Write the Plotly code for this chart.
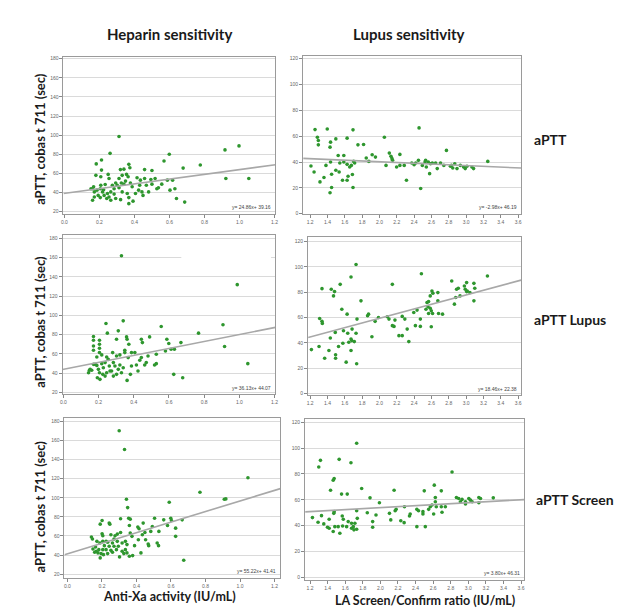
import plotly.graph_objects as go

W, H = 625, 610

# ---------------- data ----------------
hep_aptt_x = [0.312,0.261,0.212,0.182,0.212,0.18,0.208,0.25,0.255,0.32,0.34,0.368,0.374,0.355,0.364,0.415,0.458,0.5,0.458,0.494,0.518,0.569,0.599,0.678,0.588,0.618,0.776,0.917,0.997,0.922,1.053,0.167,0.161,0.171,0.186,0.205,0.218,0.224,0.193,0.205,0.161,0.227,0.242,0.255,0.265,0.274,0.284,0.293,0.302,0.312,0.325,0.33,0.34,0.349,0.359,0.368,0.377,0.387,0.368,0.392,0.43,0.424,0.443,0.449,0.481,0.528,0.537,0.556,0.603,0.631,0.64,0.687,0.321,0.293,0.265,0.246,0.284,0.406,0.468,0.208,0.233,0.434,0.5,0.33,0.312,0.152,0.171]
hep_aptt_y = [98.6,81,74,70,63.5,58,56.5,59,54.7,64,64.5,69.5,66,59,56.5,55.5,64,63,54.7,53.7,54.7,73,80,65.6,53,53,68.8,84.6,88.8,54.7,54.7,46,44,40.7,42.5,44,40.7,43,37,34.7,32,37,33.7,35.4,40.7,47.7,44,50,47.7,45,50,40.7,48.8,52,39,34.7,50,46,28.4,31,47.7,42.5,40.7,37,40.7,44,45,48.8,42.5,44,33.7,30,32.6,33.7,32,39,38.4,39,47.7,47.7,48.4,53,48.8,58,54.7,44,35.4]

lup_aptt_x = [1.21,1.257,1.398,1.695,1.284,1.295,1.295,1.436,1.43,1.497,1.627,1.752,1.817,2.057,2.457,2.773,3.25,1.246,1.314,1.36,1.383,1.436,1.448,1.448,1.43,1.497,1.524,1.535,1.543,1.574,1.589,1.589,1.627,1.638,1.627,1.657,1.676,1.688,1.703,1.695,1.714,1.848,1.878,1.916,1.954,2.076,2.114,2.133,2.145,2.152,2.198,2.236,2.236,2.286,2.312,2.373,2.4,2.419,2.45,2.476,2.495,2.526,2.541,2.564,2.579,2.59,2.61,2.648,2.667,2.705,2.743,2.819,2.846,2.869,2.895,2.933,2.971,2.99,3.01,3.067,3.086,2.83,2.533]
lup_aptt_y = [36.9,65.1,65.6,64.9,59.2,56.7,53.3,55.4,51.5,57.9,58.5,53.3,53.6,59.2,66.4,49,40.5,32.3,24.6,28,37.4,40,30.5,20.3,16.2,33.6,45.1,32.3,39.2,25.9,45.1,40,38.2,29,25.9,36.2,37.4,30.3,40.5,20.3,39.2,43.1,40.5,45.6,43.8,37.4,46.9,44.4,42.6,41.3,36.2,37.4,45.9,37.4,25.9,39.2,37.9,39.2,41.3,19.5,37.4,40,36.2,40,31,38.7,39.2,39.2,34.9,39.2,37.4,36.7,35.4,38.7,34.9,37.4,36.2,34.9,36.7,36.2,34.9,37.4,41.3]

hep_lupus_x = [0.33,0.988,0.242,0.34,0.25,0.312,0.556,0.768,0.907,0.916,1.048,0.171,0.171,0.171,0.171,0.205,0.205,0.205,0.205,0.302,0.359,0.362,0.372,0.443,0.449,0.49,0.588,0.599,0.668,0.612,0.631,0.58,0.528,0.481,0.443,0.434,0.415,0.387,0.406,0.349,0.349,0.368,0.321,0.302,0.28,0.246,0.218,0.19,0.18,0.152,0.143,0.161,0.19,0.199,0.205,0.218,0.227,0.224,0.193,0.208,0.237,0.246,0.261,0.274,0.284,0.293,0.302,0.321,0.33,0.34,0.362,0.381,0.424,0.462,0.471,0.518,0.528,0.627,0.678,0.255,0.237,0.265,0.284,0.312,0.148,0.171,0.387]
hep_lupus_y = [162,132,91.7,94.4,81.6,84,88.5,81.6,90.3,67.7,49.9,78.1,74.3,68.3,63.8,74.3,70.1,65.9,61.4,75.3,77.7,75.3,70.1,75.3,71.8,77.7,75.3,70.8,71.8,64.9,64.9,63.1,59.7,57.9,56.2,53.4,48.5,61.4,61.4,63.8,61.4,56.2,59,57.9,61.4,56.9,59,56.9,49.2,44,40.5,43,48.1,44,40.5,49.9,45.7,38.8,35.3,33.6,37,40.5,47.5,42.3,51,47.5,38.8,48.5,40.5,45.7,32.5,38.8,42.3,48.5,51,48.5,49.9,38.8,35.3,54.4,51,42.3,37,44,43,49.2,47.5]

lup_lupus_x = [1.73,1.672,1.547,1.337,1.444,1.482,1.47,1.566,1.787,1.627,1.874,1.863,1.989,1.95,1.741,1.31,1.337,1.341,2.149,2.484,2.091,2.11,2.149,2.168,2.179,2.263,2.396,2.434,2.472,2.415,2.472,2.598,2.537,2.549,2.567,2.586,2.606,2.617,2.56,2.586,2.598,2.613,2.567,2.674,2.674,2.682,2.728,2.225,2.263,2.32,2.339,1.913,1.215,1.303,1.368,1.417,1.433,1.49,1.494,1.494,1.528,1.578,1.585,1.616,1.634,1.646,1.672,1.68,1.684,1.71,1.73,1.737,1.672,2.834,2.865,2.88,2.89,2.91,2.93,2.98,3.006,3.013,3.044,3.09,3.1,3.09,3.006,3.246,2.99,2.293]
lup_lupus_y = [101.8,91.9,86.1,82.7,82.2,80.4,77,66.5,73.1,62.6,62.6,61.3,60,56.9,58.7,59.2,56.9,55.3,86.1,94.5,60.5,58.7,53.5,52.9,57.9,60.8,63.9,65.8,58.7,53.5,52.9,52.7,66.5,71.8,72.5,77,80.9,79.1,68.4,67.3,65.2,63.1,63.1,79.6,73.1,63.1,62.6,45.6,45.6,50.8,40.9,44.8,34.6,37,27.8,33.9,43.8,48.2,30.5,27.8,37,39.6,49.5,24.7,47.5,40.4,33.9,41.7,50.8,40.9,47.5,23.4,43,88.8,70.5,75.7,82.2,83,77,84.8,87.5,80.9,79.6,86.9,83,73.1,80.4,92.7,82.2,58.7]

hep_screen_x = [0.30,0.331,1.046,0.768,0.909,0.918,0.342,0.349,0.59,0.674,0.308,0.355,0.364,0.242,0.246,0.201,0.19,0.439,0.505,0.558,0.599,0.603,0.665,0.58,0.627,0.627,0.492,0.408,0.415,0.359,0.449,0.434,0.483,0.53,0.308,0.289,0.276,0.27,0.252,0.201,0.205,0.139,0.145,0.364,0.374,0.389,0.468,0.471,0.52,0.528,0.171,0.188,0.205,0.224,0.163,0.148,0.158,0.177,0.195,0.19,0.209,0.224,0.233,0.242,0.252,0.261,0.27,0.284,0.295,0.302,0.317,0.327,0.336,0.345,0.359,0.378,0.426,0.205,0.182,0.167,0.214,0.233,0.289,0.317,0.336,0.345,0.261,0.453,0.411]
hep_screen_y = [170,150.4,120.9,105.7,98.4,98.8,98.4,89.7,95.3,34.6,78,78.6,77.6,73.5,72.4,76.2,72.4,73.5,78.6,76.9,78.6,76.2,76.9,71,68.2,59.6,70,69.3,67.6,71,63.7,61.3,64.8,64.8,63.7,62,60.3,56.8,61.3,62.4,60.3,58.9,56.8,63,59.6,49.9,51.6,49.9,52.7,49.9,54.4,52.7,54.4,54.4,48.5,46.4,43,42.3,41.6,37.1,40.5,45.7,41.6,49.2,45,43,49.2,45.7,49.2,38.1,44,41.6,45.7,42.3,38.8,39.5,42.3,45.7,45.7,44,49.9,53.4,54.4,52.7,54.4,51,52.7,56.1,56.1]

lup_screen_x = [1.73,1.318,1.299,1.531,1.665,1.474,1.463,1.433,1.558,1.623,1.787,1.882,1.989,2.156,2.499,2.693,2.613,2.815,2.865,2.891,2.929,2.968,3.006,3.025,3.044,3.12,3.139,3.12,3.284,2.91,2.968,2.625,2.625,2.587,2.568,2.636,2.549,2.606,2.693,2.739,2.701,2.415,2.434,2.484,2.484,2.339,2.331,2.274,2.179,2.168,2.103,2.118,2.232,2.27,2.415,2.511,1.95,1.912,1.912,1.851,1.73,1.737,1.71,1.692,1.672,1.672,1.699,1.73,1.634,1.616,1.578,1.566,1.52,1.539,1.482,1.463,1.417,1.417,1.398,1.356,1.33,1.291,1.227,1.474,1.47,1.57]
lup_screen_y = [103.8,90.5,85.4,91.3,88.7,76.4,75.1,67.4,64.4,64.4,68.7,61.5,57.7,67.4,66.9,66.9,71.3,81.5,61.8,61,60.3,58.5,61,59.7,58.5,61.8,61,57.7,61.5,58.5,56.7,61.8,58.5,55.9,54.6,54.6,52.6,49,54.6,54.6,50.3,52.6,51.5,50.8,49,49,47.4,54.6,52.6,51.5,49.5,44.4,43.8,42.3,39.2,39.2,48.2,43.1,38.7,50,51.5,45.6,41.8,39.2,41.8,37.9,36.7,37.2,43.1,39.2,44.9,47.4,39.2,34.1,39.2,35.4,37.9,44.9,38.7,41.3,47.7,42.6,46.2,50.8,49.5,39.7]

slopes = [24.86, -2.98, 36.13, 18.46, 55.22, 3.80]
intercepts = [39.16, 46.19, 44.07, 22.38, 41.41, 46.31]
equation_labels = ["y= 24.86x+ 39.16", "y= -2.98x+ 46.19", "y= 36.13x+ 44.07",
                   "y= 18.46x+ 22.38", "y= 55.22x+ 41.41", "y= 3.80x+ 46.31"]

column_titles = ["Heparin sensitivity", "Lupus sensitivity"]
row_labels = ["aPTT", "aPTT Lupus", "aPTT Screen"]
y_title = "aPTT, cobas t 711 (sec)"
x_titles = ["Anti-Xa activity (IU/mL)", "LA Screen/Confirm ratio (IU/mL)"]

left_xticks = [0.0, 0.2, 0.4, 0.6, 0.8, 1.0, 1.2]
right_xticks = [1.2, 1.4, 1.6, 1.8, 2.0, 2.2, 2.4, 2.6, 2.8, 3.0, 3.2, 3.4, 3.6]
left_yticks = [20, 40, 60, 80, 100, 120, 140, 160, 180]
right_yticks = [0, 20, 40, 60, 80, 100, 120]

series = [(hep_aptt_x, hep_aptt_y), (lup_aptt_x, lup_aptt_y),
          (hep_lupus_x, hep_lupus_y), (lup_lupus_x, lup_lupus_y),
          (hep_screen_x, hep_screen_y), (lup_screen_x, lup_screen_y)]

# ---------------- layout (pixel boxes) ----------------
panels = [
    ((53, 47.7, 267, 205.5), [-0.005, 1.205], [17.4, 181.4], left_xticks, left_yticks),
    ((295, 46, 515, 205.7), [1.12, 3.634], [-0.5, 122.3], right_xticks, right_yticks),
    ((52, 226.7, 267, 387), [-0.005, 1.205], [17.9, 183.4], left_xticks, left_yticks),
    ((300, 229, 515, 388), [1.177, 3.634], [-1.6, 123.1], right_xticks, right_yticks),
    ((54, 411, 272, 572), [-0.017, 1.234], [15.8, 183.1], left_xticks, left_yticks),
    ((297, 412, 518, 574), [1.144, 3.634], [-2.3, 122.3], right_xticks, right_yticks),
]

def px(x):
    return x / W

def py(y):
    return 1 - y / H

GREEN = "#2e962e"
TICKFONT = dict(family="Liberation Sans", size=5, color="#666666")
BOLD = "Lato, 'Open Sans', sans-serif"

fig = go.Figure()
layout = dict(
    width=W, height=H, margin=dict(l=0, r=0, t=0, b=0),
    paper_bgcolor="white", plot_bgcolor="white", showlegend=False,
    annotations=[], shapes=[],
)

for i, ((l, t, r, b), xr, yr, xt, yt) in enumerate(panels):
    n = "" if i == 0 else str(i + 1)
    xa, ya = "x" + n, "y" + n
    xs, ys = series[i]
    fig.add_trace(go.Scatter(
        x=xs, y=ys, mode="markers", xaxis=xa, yaxis=ya,
        marker=dict(color=GREEN, size=3.6, line=dict(width=0)),
        hoverinfo="skip"))
    lx = [xr[0], xr[1]]
    ly = [slopes[i] * v + intercepts[i] for v in lx]
    fig.add_trace(go.Scatter(
        x=lx, y=ly, mode="lines", xaxis=xa, yaxis=ya,
        line=dict(color="#a8a8a8", width=1.6), hoverinfo="skip"))
    layout["xaxis" + n] = dict(
        domain=[px(l), px(r)], range=xr, anchor=ya,
        tickvals=xt, ticktext=["%.1f" % v for v in xt], tickfont=TICKFONT,
        ticks="outside", ticklen=3, tickcolor="#888888", tickwidth=1,
        showgrid=False, zeroline=False, showline=True, mirror=True,
        linecolor="#9a9a9a", linewidth=1)
    layout["yaxis" + n] = dict(
        domain=[py(b), py(t)], range=yr, anchor=xa,
        tickvals=yt, ticktext=[str(v) for v in yt], tickfont=TICKFONT,
        ticks="outside", ticklen=3, tickcolor="#888888", tickwidth=1,
        showgrid=True, gridcolor="#dadada", gridwidth=1,
        zeroline=False, showline=True, mirror=True,
        linecolor="#9a9a9a", linewidth=1)
    layout["annotations"].append(dict(
        text=equation_labels[i], xref=xa + " domain", yref=ya + " domain",
        x=0.99, y=0.012, xanchor="right", yanchor="bottom", showarrow=False,
        font=dict(family="Liberation Sans", size=5, color="#444444")))

# column titles
for txt, cx in zip(column_titles, [160, 402]):
    layout["annotations"].append(dict(
        text="<b>%s</b>" % txt, xref="paper", yref="paper", x=px(cx), y=py(24),
        xanchor="center", yanchor="middle", showarrow=False,
        font=dict(family=BOLD, size=15, color="#1a1a1a")))

# row labels
for txt, (lx0, cy) in zip(row_labels, [(526, 130), (526, 312), (528, 493)]):
    layout["annotations"].append(dict(
        text="<b>%s</b>" % txt, xref="paper", yref="paper", x=px(lx0), y=py(cy),
        xanchor="left", yanchor="middle", showarrow=False,
        font=dict(family=BOLD, size=14, color="#1a1a1a")))

# y titles
for cy in [130, 314, 500]:
    layout["annotations"].append(dict(
        text="<b>%s</b>" % y_title, xref="paper", yref="paper", x=px(29), y=py(cy),
        xanchor="center", yanchor="middle", showarrow=False, textangle=-90,
        font=dict(family=BOLD, size=13, color="#1a1a1a")))

# x titles
for txt, cx, cy in zip(x_titles, [160, 418], [590, 594]):
    layout["annotations"].append(dict(
        text="<b>%s</b>" % txt, xref="paper", yref="paper", x=px(cx), y=py(cy),
        xanchor="center", yanchor="middle", showarrow=False,
        font=dict(family=BOLD, size=12.5, color="#1a1a1a")))

fig.update_layout(**layout)

# partially missing gridline at 160 in the middle-left panel
try:
    fig.add_shape(type="line", xref="x3", yref="y3", x0=0.67, x1=1.18, y0=160, y1=160,
                  line=dict(color="white", width=2), layer="between")
except Exception:
    pass

fig.write_html("out.html")
